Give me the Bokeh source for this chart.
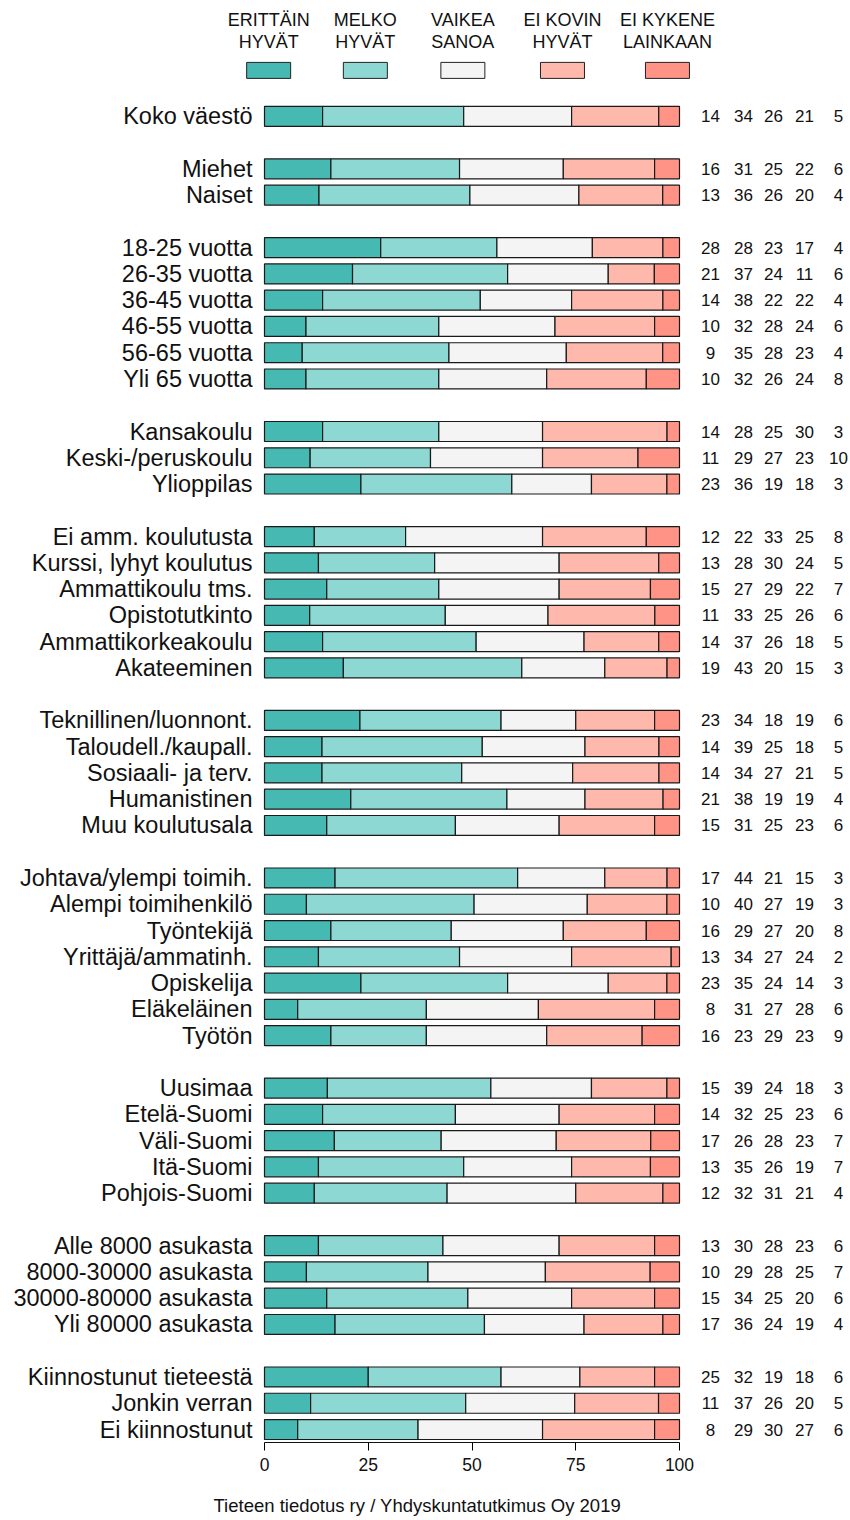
from bokeh.plotting import figure
from bokeh.models import ColumnDataSource, Range1d, FixedTicker, Title
from bokeh.core.properties import value
from bokeh.embed import file_html
from bokeh.resources import INLINE

FONT = "Liberation Sans"

legend_labels = ["ERITTÄIN\nHYVÄT", "MELKO\nHYVÄT", "VAIKEA\nSANOA", "EI KOVIN\nHYVÄT", "EI KYKENE\nLAINKAAN"]
colors = ["#46B9B3", "#8ED8D3", "#F4F4F4", "#FFB9AC", "#FF9486"]

categories = [
    "Koko väestö",
    "Miehet", "Naiset",
    "18-25 vuotta", "26-35 vuotta", "36-45 vuotta", "46-55 vuotta", "56-65 vuotta", "Yli 65 vuotta",
    "Kansakoulu", "Keski-/peruskoulu", "Ylioppilas",
    "Ei amm. koulutusta", "Kurssi, lyhyt koulutus", "Ammattikoulu tms.", "Opistotutkinto",
    "Ammattikorkeakoulu", "Akateeminen",
    "Teknillinen/luonnont.", "Taloudell./kaupall.", "Sosiaali- ja terv.", "Humanistinen", "Muu koulutusala",
    "Johtava/ylempi toimih.", "Alempi toimihenkilö", "Työntekijä", "Yrittäjä/ammatinh.", "Opiskelija",
    "Eläkeläinen", "Työtön",
    "Uusimaa", "Etelä-Suomi", "Väli-Suomi", "Itä-Suomi", "Pohjois-Suomi",
    "Alle 8000 asukasta", "8000-30000 asukasta", "30000-80000 asukasta", "Yli 80000 asukasta",
    "Kiinnostunut tieteestä", "Jonkin verran", "Ei kiinnostunut",
]
group_sizes = [1, 2, 6, 3, 6, 5, 7, 5, 4, 3]

erittain = [14, 16, 13, 28, 21, 14, 10, 9, 10, 14, 11, 23, 12, 13, 15, 11, 14, 19,
            23, 14, 14, 21, 15, 17, 10, 16, 13, 23, 8, 16, 15, 14, 17, 13, 12,
            13, 10, 15, 17, 25, 11, 8]
melko = [34, 31, 36, 28, 37, 38, 32, 35, 32, 28, 29, 36, 22, 28, 27, 33, 37, 43,
         34, 39, 34, 38, 31, 44, 40, 29, 34, 35, 31, 23, 39, 32, 26, 35, 32,
         30, 29, 34, 36, 32, 37, 29]
vaikea = [26, 25, 26, 23, 24, 22, 28, 28, 26, 25, 27, 19, 33, 30, 29, 25, 26, 20,
          18, 25, 27, 19, 25, 21, 27, 27, 27, 24, 27, 29, 24, 25, 28, 26, 31,
          28, 28, 25, 24, 19, 26, 30]
ei_kovin = [21, 22, 20, 17, 11, 22, 24, 23, 24, 30, 23, 18, 25, 24, 22, 26, 18, 15,
            19, 18, 21, 19, 23, 15, 19, 20, 24, 14, 28, 23, 18, 23, 23, 19, 21,
            23, 25, 20, 19, 18, 20, 27]
ei_kykene = [5, 6, 4, 4, 6, 4, 6, 4, 8, 3, 10, 3, 8, 5, 7, 6, 5, 3,
             6, 5, 5, 4, 6, 3, 3, 8, 2, 3, 6, 9, 3, 6, 7, 7, 4,
             6, 7, 6, 4, 6, 5, 6]
x_ticks = [0, 25, 50, 75, 100]
caption = "Tieteen tiedotus ry / Yhdyskuntatutkimus Oy 2019"

series = [erittain, melko, vaikea, ei_kovin, ei_kykene]

# ---- layout constants (pixels) ----
W, H = 850, 1520
FRAME_LEFT_PX = 264          # where x = 0 sits
PX_PER_UNIT = 415 / 100.0    # 0..100 spans 415 px
FIRST_ROW_PX = 116           # centre of first bar row
PX_PER_SLOT = 26.3
FRAME_BOTTOM_PX = 1444
BOTTOM_BORDER = H - FRAME_BOTTOM_PX

# slot positions with one empty slot between groups
ypos = []
s = 0
for g in group_sizes:
    for _ in range(g):
        ypos.append(s)
        s += 1
    s += 1

def slot(px):
    return (px - FIRST_ROW_PX) / PX_PER_SLOT

x_start = -FRAME_LEFT_PX / PX_PER_UNIT
x_end = x_start + W / PX_PER_UNIT
y_top = slot(0)
y_bottom = slot(FRAME_BOTTOM_PX)

totals = [sum(col) for col in zip(*series)]
data = dict(y=ypos, x0=[0] * len(ypos), xr=[100] * len(ypos), cat=categories)
cum = [0.0] * len(ypos)
for i, ser in enumerate(series):
    right = [c + v * 100.0 / t for c, v, t in zip(cum, ser, totals)]
    data[f"l{i}"] = list(cum)
    data[f"r{i}"] = right
    data[f"t{i}"] = [str(v) for v in ser]
    cum = right
src = ColumnDataSource(data)

p = figure(width=W, height=H, x_range=Range1d(x_start, x_end),
           y_range=Range1d(y_bottom, y_top),
           output_backend="svg", toolbar_location=None, y_axis_location=None,
           min_border_left=0, min_border_right=0, min_border_top=0,
           min_border_bottom=BOTTOM_BORDER)
p.grid.visible = False
p.outline_line_color = None

# bars
for i in range(5):
    p.hbar(y="y", left=f"l{i}", right=f"r{i}", height=0.76, fill_color=colors[i],
           line_color="#1a1a1a", line_width=1.2, source=src)

# category labels
p.text(x="x0", y="y", text="cat", x_offset=-12, source=src, text_align="right",
       text_baseline="middle", text_font=value(FONT), text_font_size="23.5px",
       text_color="#111111")

# value columns
offsets = [31, 64, 94, 125, 159]
for i, off in enumerate(offsets):
    p.text(x="xr", y="y", text=f"t{i}", x_offset=off, source=src,
           text_align="center", text_baseline="middle",
           text_font=value(FONT), text_font_size="17px", text_color="#111111")

# legend (text above colour box)
legend_x = [1.0, 24.3, 47.8, 71.8, 97.1]
lsrc = ColumnDataSource(dict(
    x=legend_x,
    l1=[t.split("\n")[0] for t in legend_labels],
    l2=[t.split("\n")[1] for t in legend_labels],
    c=colors))
p.text(x="x", y=slot(20), text="l1", source=lsrc, text_align="center", text_baseline="middle",
       text_font=value(FONT), text_font_size="18px", text_color="#111111")
p.text(x="x", y=slot(42), text="l2", source=lsrc, text_align="center", text_baseline="middle",
       text_font=value(FONT), text_font_size="18px", text_color="#111111")
p.rect(x="x", y=slot(70), width=44, height=16, width_units="screen", height_units="screen",
       fill_color="c", line_color="#222222", line_width=1, source=lsrc)

# x axis
p.xaxis.bounds = (0, 100)
p.xaxis.ticker = FixedTicker(ticks=x_ticks)
p.xaxis.axis_line_color = "#111111"
p.xaxis.axis_line_width = 1
p.xaxis.major_tick_out = 8
p.xaxis.major_tick_in = 0
p.xaxis.minor_tick_line_color = None
p.xaxis.major_label_standoff = 7
p.xaxis.major_label_text_font = FONT
p.xaxis.major_label_text_font_size = "17.5px"
p.xaxis.major_label_text_color = "#111111"
# blank axis label used only as spacing above the caption
p.xaxis.axis_label = " "
p.xaxis.axis_label_standoff = 2
p.xaxis.axis_label_text_font_size = "8px"

# caption
p.add_layout(Title(text=caption, align="left", offset=213, text_font=FONT,
                   text_font_size="18.5px", text_font_style="normal",
                   text_color="#111111"), "below")

open("out.html", "w").write(file_html(p, INLINE))
